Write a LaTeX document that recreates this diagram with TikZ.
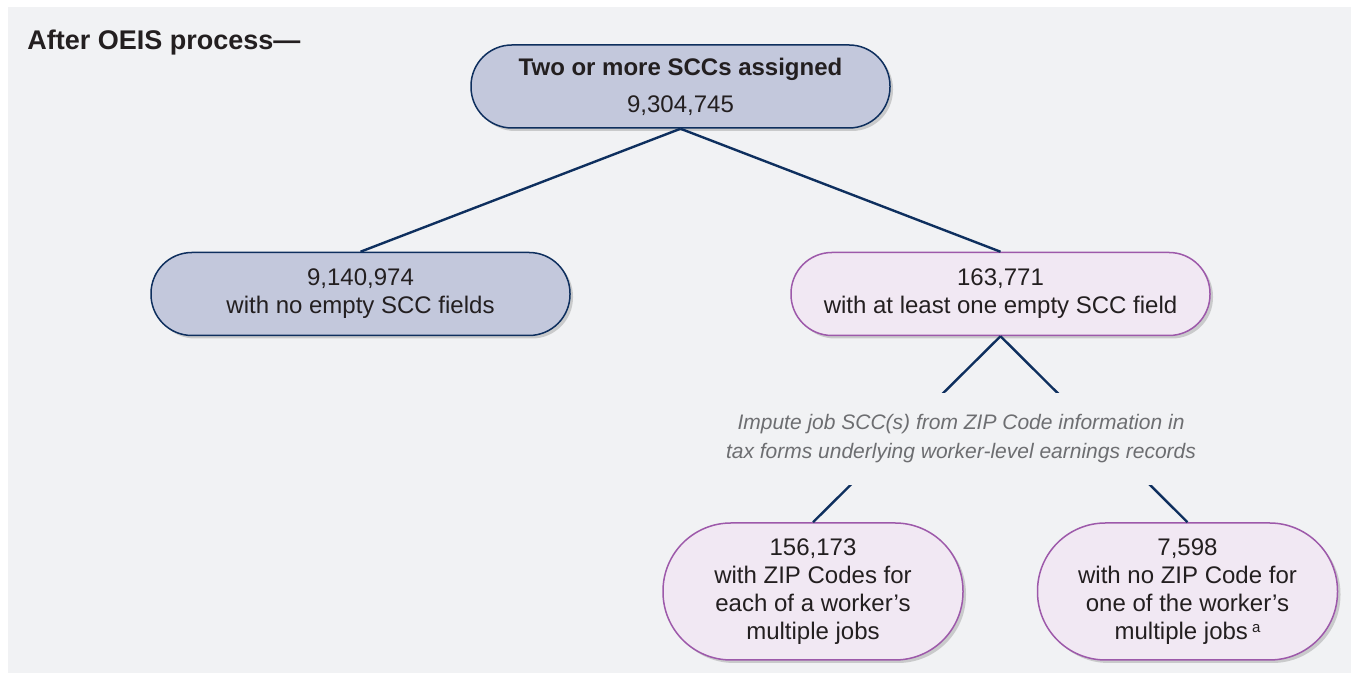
\documentclass[tikz,border=0pt]{standalone}
\usepackage{fontspec}
\setmainfont{Liberation Sans}
\usepackage{xcolor}
\usetikzlibrary{shadows}
\definecolor{panelgray}{HTML}{F1F2F4}
\definecolor{bluefill}{HTML}{C3C8DC}
\definecolor{navyline}{HTML}{0E2F5E}
\definecolor{lilacfill}{HTML}{F1E8F3}
\definecolor{purpleline}{HTML}{9D59AA}
\definecolor{inkdark}{HTML}{231F20}
\definecolor{notegray}{HTML}{6D6E71}
\newcommand{\notemark}[1]{\,\raisebox{3.5pt}{\fontsize{7.5}{8}\selectfont #1}}

\begin{document}
\begin{tikzpicture}[x=0.5pt, y=0.5pt,
    every node/.style={text=inkdark, align=center, inner sep=0pt,
      font=\fontsize{12}{14}\selectfont},
    pill/.style={rectangle, line width=0.75pt,
      drop shadow={shadow xshift=1.5pt, shadow yshift=-1.5pt, opacity=0.35}},
    widepill/.style={pill, minimum width=209.5pt, minimum height=41.5pt,
      rounded corners=20.5pt},
    tallpill/.style={pill, minimum width=150pt, minimum height=68.5pt,
      rounded corners=34pt},
    bluebox/.style={draw=navyline, fill=bluefill},
    lilacbox/.style={draw=purpleline, fill=lilacfill},
    wire/.style={draw=navyline, line width=1.2pt},
    note/.style={fill=panelgray, text=notegray, minimum height=46pt,
      inner xsep=1pt, font=\itshape\fontsize{10.5}{14.5}\selectfont}]
\useasboundingbox (0,0) rectangle (1351,673);
\fill[panelgray] (8,0) rectangle (1351,666);%
\node[anchor=base west, font=\bfseries\fontsize{13.5}{16}\selectfont]
      (heading) at (27,623) {After OEIS process—};%
% tree of SCC counts
\node[widepill, bluebox] (total) at (680.5,586.5)
      {\textbf{Two or more SCCs assigned}\\[4.5pt]9,304,745};%
\node[widepill, bluebox] (noempty) at (360.5,379)
      {9,140,974\\with no empty SCC fields};%
\node[widepill, lilacbox] (oneempty) at (1000.5,379)
      {163,771\\with at least one empty SCC field};%
\node[tallpill, lilacbox] (withzip) at (813,81.5)
      {156,173\\with ZIP Codes for\\each of a worker’s\\multiple jobs};%
\node[tallpill, lilacbox] (nozip) at (1187.5,81.5)
      {7,598\\with no ZIP Code for\\one of the worker’s\\multiple jobs\notemark{a}};%
\draw[wire] (total.south) -- (noempty.north);
\draw[wire] (total.south) -- (oneempty.north);
\draw[wire] (oneempty.south) -- (withzip.north);
\draw[wire] (oneempty.south) -- (nozip.north);
% label laid over the two lower wires
\node[note] (impute) at (961,234)
      {Impute job SCC(s) from ZIP Code information in\\tax forms underlying worker-level earnings records};%
\end{tikzpicture}
\end{document}
